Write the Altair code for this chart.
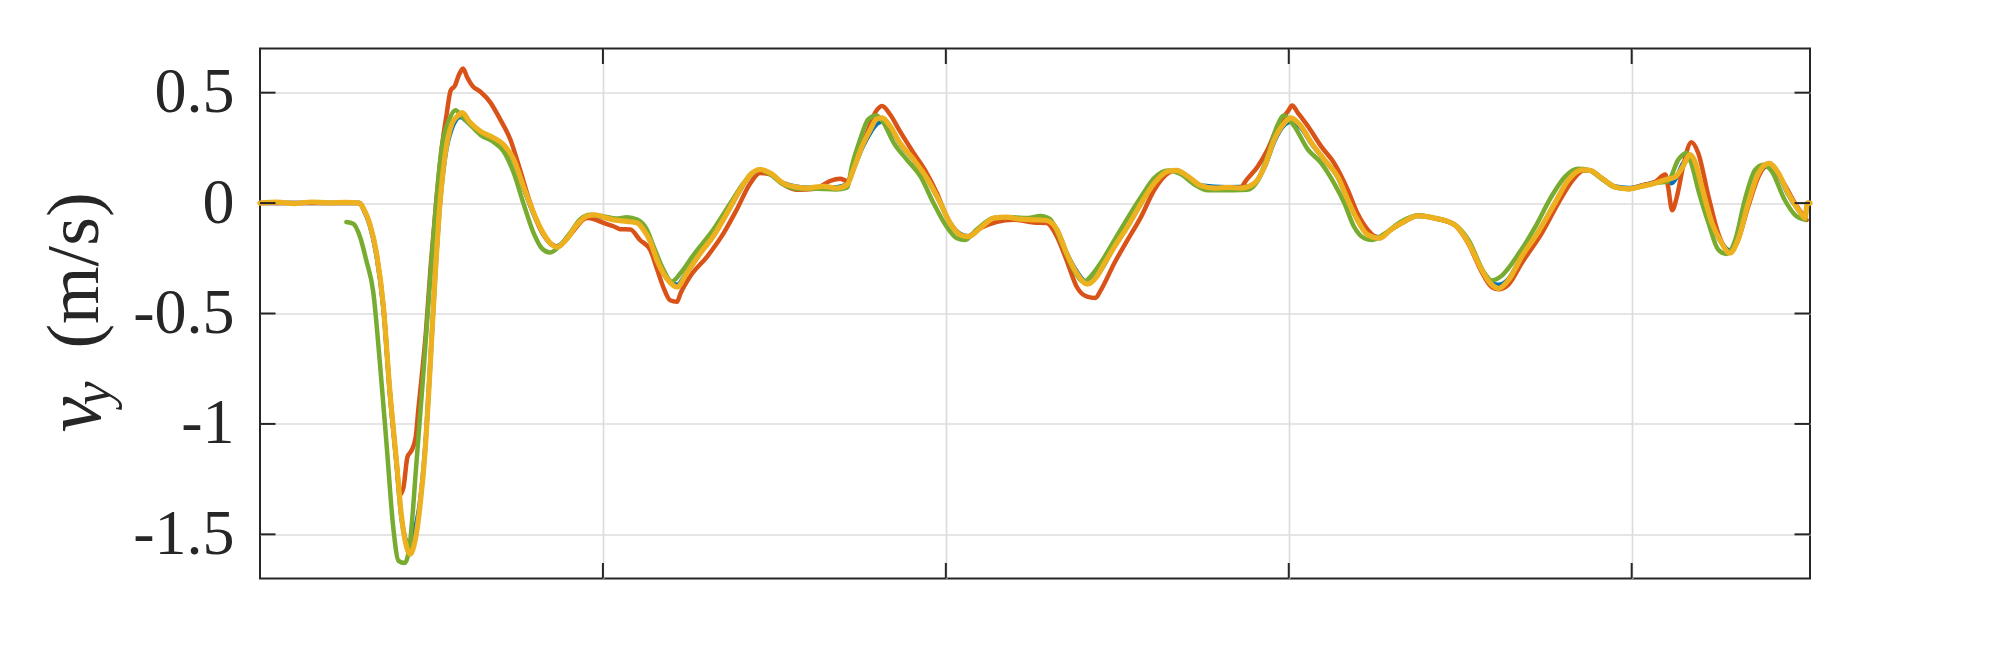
import altair as alt
import pandas as pd

# ---------------- data ----------------
yellow_t = [0.00, 0.25, 0.50, 0.75, 1.00, 1.25, 1.45, 1.51, 1.60, 1.70, 1.80, 1.89, 1.99, 2.06, 2.14, 2.19,
            2.26, 2.33, 2.41, 2.48, 2.55, 2.62, 2.70, 2.80, 2.90, 2.95, 3.05, 3.21, 3.41, 3.55, 3.70, 3.84,
            3.99, 4.13, 4.26, 4.33, 4.48, 4.62, 4.77, 4.89, 5.01, 5.16, 5.35, 5.50, 5.59, 5.69, 5.79, 5.88,
            5.98, 6.08, 6.22, 6.42, 6.61, 6.81, 7.00, 7.15, 7.29, 7.44, 7.63, 7.83, 7.97, 8.22, 8.41, 8.56,
            8.65, 8.78, 8.90, 8.99, 9.07, 9.19, 9.33, 9.53, 9.72, 9.92, 10.06, 10.21, 10.33, 10.50, 10.70,
            10.89, 11.08, 11.33, 11.47, 11.62, 11.76, 11.91, 12.06, 12.20, 12.30, 12.46, 12.65, 12.85, 13.04,
            13.24, 13.36, 13.53, 13.72, 13.92, 14.11, 14.31, 14.50, 14.65, 14.79, 14.94, 15.03, 15.18, 15.33,
            15.52, 15.71, 15.86, 16.00, 16.15, 16.32, 16.49, 16.69, 16.88, 17.13, 17.42, 17.62, 17.81, 17.96,
            18.06, 18.20, 18.40, 18.64, 18.88, 19.08, 19.27, 19.39, 19.56, 19.76, 19.95, 20.15, 20.34, 20.49,
            20.63, 20.75, 20.85, 20.92, 21.02, 21.17, 21.31, 21.43, 21.55, 21.70, 21.85, 22.00, 22.14, 22.28,
            22.43, 22.53, 22.56, 22.60]
yellow_v = [0.000, 0.004, -0.002, 0.005, 0.001, 0.003, 0.000, -0.026, -0.094, -0.23, -0.47, -0.84, -1.17, -1.41,
            -1.56, -1.59, -1.53, -1.38, -1.11, -0.745, -0.35, -0.018, 0.22, 0.36, 0.40, 0.41, 0.37, 0.326, 0.295,
            0.265, 0.197, 0.076, -0.045, -0.136, -0.19, -0.20, -0.16, -0.098, -0.058, -0.053, -0.064, -0.076,
            -0.083, -0.09, -0.12, -0.174, -0.26, -0.318, -0.36, -0.38, -0.318, -0.227, -0.15, -0.045, 0.06,
            0.129, 0.152, 0.136, 0.09, 0.072, 0.068, 0.076, 0.068, 0.083, 0.15, 0.258, 0.333, 0.38, 0.386,
            0.348, 0.273, 0.197, 0.114, 0.0, -0.09, -0.144, -0.152, -0.114, -0.068, -0.064, -0.073, -0.076,
            -0.079, -0.12, -0.227, -0.318, -0.367, -0.333, -0.28, -0.197, -0.106, 0.0, 0.09, 0.144, 0.148,
            0.121, 0.079, 0.068, 0.071, 0.068, 0.09, 0.167, 0.288, 0.364, 0.386, 0.348, 0.273, 0.197, 0.121,
            0.015, -0.076, -0.144, -0.159, -0.12, -0.083, -0.058, -0.068, -0.098, -0.18, -0.30, -0.37, -0.386,
            -0.35, -0.24, -0.13, 0.0, 0.106, 0.15, 0.148, 0.114, 0.073, 0.064, 0.076, 0.09, 0.106, 0.117, 0.167,
            0.22, 0.19, 0.076, -0.09, -0.18, -0.227, -0.167, 0.0, 0.136, 0.18, 0.136, 0.045, -0.03, -0.068, 0.0,
            0.0]

blue_t = [0.00, 0.50, 1.00, 1.45, 1.51, 1.60, 1.70, 1.80, 1.89, 1.99, 2.06, 2.12, 2.17, 2.22, 2.28, 2.33, 2.41,
          2.48, 2.55, 2.62, 2.70, 2.80, 2.92, 3.05, 3.21, 3.41, 3.55, 3.70, 3.84, 3.99, 4.13, 4.26, 4.33, 4.48,
          4.62, 4.77, 4.89, 5.01, 5.16, 5.35, 5.50, 5.59, 5.69, 5.79, 5.88, 5.98, 6.08, 6.22, 6.42, 6.61, 6.81,
          7.00, 7.15, 7.29, 7.44, 7.63, 7.97, 8.41, 8.56, 8.65, 8.78, 8.90, 9.00, 9.07, 9.19, 9.33, 9.53, 9.72,
          9.92, 10.06, 10.21, 10.33, 10.50, 10.70, 11.08, 11.47, 11.62, 11.76, 11.91, 12.06, 12.20, 12.46, 12.65,
          12.85, 13.04, 13.24, 13.36, 13.53, 13.72, 14.11, 14.45, 14.65, 14.79, 14.94, 15.03, 15.18, 15.33, 15.52,
          15.71, 15.86, 16.00, 16.15, 16.32, 16.49, 16.69, 16.88, 17.13, 17.42, 17.62, 17.81, 17.96, 18.06, 18.20,
          18.40, 18.64, 18.88, 19.08, 19.27, 19.39, 19.56, 19.76, 19.95, 20.15, 20.34, 20.49, 20.58, 20.66, 20.75,
          20.85, 20.92, 21.02, 21.17, 21.31, 21.43, 21.55, 21.70, 21.85, 22.00, 22.14, 22.28, 22.43, 22.53, 22.56,
          22.60]
blue_v = [0.0, 0.0, 0.0, 0.0, -0.03, -0.10, -0.24, -0.48, -0.85, -1.18, -1.42, -1.52, -1.55, -1.52, -1.45, -1.36,
          -1.10, -0.74, -0.35, -0.02, 0.21, 0.34, 0.39, 0.36, 0.32, 0.29, 0.26, 0.19, 0.07, -0.05, -0.14, -0.19,
          -0.195, -0.16, -0.10, -0.06, -0.055, -0.066, -0.074, -0.08, -0.085, -0.115, -0.17, -0.255, -0.32, -0.355,
          -0.37, -0.315, -0.225, -0.148, -0.045, 0.058, 0.128, 0.15, 0.134, 0.09, 0.07, 0.072, 0.085, 0.15, 0.25,
          0.32, 0.36, 0.37, 0.34, 0.27, 0.195, 0.112, 0.0, -0.09, -0.14, -0.15, -0.112, -0.068, -0.07, -0.078,
          -0.12, -0.225, -0.31, -0.36, -0.33, -0.195, -0.105, 0.0, 0.088, 0.142, 0.147, 0.12, 0.08, 0.072, 0.075,
          0.165, 0.28, 0.355, 0.37, 0.34, 0.27, 0.195, 0.12, 0.015, -0.075, -0.14, -0.155, -0.12, -0.083, -0.058,
          -0.068, -0.098, -0.18, -0.30, -0.365, -0.37, -0.345, -0.24, -0.13, 0.0, 0.105, 0.148, 0.147, 0.114,
          0.075, 0.068, 0.08, 0.095, 0.11, 0.09, 0.12, 0.18, 0.20, 0.18, 0.074, -0.09, -0.18, -0.215, -0.165, 0.0,
          0.13, 0.17, 0.13, 0.04, -0.03, -0.06, 0.0, 0.0]

red_t = [0.00, 0.50, 1.00, 1.45, 1.51, 1.60, 1.70, 1.80, 1.89, 1.99, 2.04, 2.09, 2.15, 2.21, 2.27, 2.31, 2.35,
         2.42, 2.49, 2.57, 2.65, 2.72, 2.78, 2.84, 2.90, 2.96, 3.02, 3.10, 3.21, 3.36, 3.50, 3.65, 3.79, 3.94,
         4.09, 4.23, 4.35, 4.52, 4.77, 4.89, 5.01, 5.16, 5.25, 5.40, 5.54, 5.69, 5.79, 5.88, 5.98, 6.08, 6.13,
         6.27, 6.52, 6.76, 6.95, 7.15, 7.29, 7.44, 7.63, 7.83, 8.10, 8.31, 8.46, 8.56, 8.70, 8.85, 8.97, 9.07,
         9.19, 9.33, 9.53, 9.72, 9.87, 10.01, 10.16, 10.31, 10.50, 10.99, 11.28, 11.47, 11.62, 11.76, 11.91,
         12.06, 12.18, 12.26, 12.46, 12.65, 12.85, 13.04, 13.24, 13.36, 13.53, 13.72, 13.92, 14.11, 14.31, 14.35,
         14.55, 14.69, 14.84, 14.99, 15.05, 15.13, 15.28, 15.47, 15.66, 15.86, 16.00, 16.15, 16.32, 16.49, 16.69,
         16.89, 17.13, 17.42, 17.62, 17.81, 17.96, 18.06, 18.20, 18.40, 18.69, 18.93, 19.13, 19.30, 19.39, 19.56,
         19.76, 19.95, 20.15, 20.34, 20.49, 20.53, 20.59, 20.66, 20.75, 20.87, 20.97, 21.12, 21.26, 21.43, 21.55,
         21.70, 21.85, 22.00, 22.19, 22.38, 22.55]
red_v = [0.0, 0.0, 0.0, 0.0, -0.026, -0.094, -0.23, -0.47, -0.84, -1.17, -1.32, -1.29, -1.15, -1.12, -1.06, -0.93,
         -0.81, -0.58, -0.28, 0.01, 0.25, 0.40, 0.51, 0.53, 0.58, 0.61, 0.57, 0.53, 0.505, 0.455, 0.38, 0.288, 0.152,
         0.0, -0.12, -0.18, -0.197, -0.144, -0.068, -0.075, -0.09, -0.106, -0.118, -0.12, -0.167, -0.212, -0.30,
         -0.38, -0.44, -0.447, -0.41, -0.333, -0.242, -0.136, -0.03, 0.09, 0.136, 0.13, 0.085, 0.06, 0.065, 0.10,
         0.11, 0.10, 0.197, 0.318, 0.41, 0.44, 0.40, 0.326, 0.227, 0.136, 0.045, -0.06, -0.129, -0.152, -0.114,
         -0.075, -0.088, -0.09, -0.152, -0.258, -0.38, -0.424, -0.43, -0.394, -0.27, -0.167, -0.06, 0.06, 0.136,
         0.148, 0.121, 0.079, 0.066, 0.07, 0.07, 0.09, 0.167, 0.242, 0.348, 0.417, 0.442, 0.41, 0.348, 0.258, 0.182,
         0.06, -0.045, -0.12, -0.159, -0.12, -0.083, -0.055, -0.07, -0.10, -0.185, -0.31, -0.38, -0.39, -0.37,
         -0.27, -0.136, 0.0, 0.10, 0.148, 0.148, 0.114, 0.073, 0.064, 0.08, 0.095, 0.129, 0.076, -0.033, 0.03, 0.167,
         0.276, 0.227, 0.03, -0.136, -0.22, -0.167, -0.015, 0.12, 0.18, 0.105, 0.0, -0.076]

green_t = [1.26, 1.36, 1.46, 1.55, 1.65, 1.75, 1.85, 1.94, 2.02, 2.11, 2.19, 2.28, 2.38, 2.48, 2.58, 2.65, 2.75,
           2.85, 2.95, 3.05, 3.21, 3.41, 3.55, 3.70, 3.84, 3.99, 4.11, 4.23, 4.38, 4.52, 4.67, 4.82, 5.00, 5.20,
           5.35, 5.50, 5.64, 5.74, 5.88, 6.00, 6.13, 6.32, 6.61, 6.86, 7.05, 7.19, 7.29, 7.44, 7.63, 7.83, 8.10,
           8.40, 8.56, 8.63, 8.75, 8.87, 8.99, 9.09, 9.24, 9.43, 9.63, 9.82, 10.01, 10.16, 10.28, 10.45, 10.70,
           10.95, 11.20, 11.38, 11.52, 11.71, 11.86, 12.01, 12.15, 12.26, 12.46, 12.65, 12.85, 13.04, 13.24, 13.43,
           13.62, 13.82, 14.20, 14.40, 14.54, 14.69, 14.83, 14.93, 15.08, 15.28, 15.47, 15.66, 15.81, 15.95, 16.10,
           16.22, 16.39, 16.63, 16.89, 17.13, 17.42, 17.62, 17.86, 17.96, 18.10, 18.35, 18.59, 18.83, 19.03, 19.22,
           19.37, 19.56, 19.76, 19.95, 20.15, 20.34, 20.53, 20.68, 20.80, 20.87, 20.97, 21.12, 21.26, 21.38, 21.51,
           21.65, 21.80, 21.92, 22.04, 22.23, 22.38, 22.53]
green_v = [-0.086, -0.094, -0.155, -0.26, -0.40, -0.73, -1.11, -1.46, -1.62, -1.63, -1.53, -1.18, -0.78, -0.35,
           0.04, 0.25, 0.37, 0.42, 0.39, 0.36, 0.31, 0.276, 0.235, 0.136, 0.0, -0.136, -0.205, -0.224, -0.19, -0.136,
           -0.073, -0.053, -0.06, -0.07, -0.064, -0.075, -0.12, -0.197, -0.30, -0.356, -0.318, -0.235, -0.12, 0.0,
           0.09, 0.136, 0.152, 0.13, 0.085, 0.065, 0.065, 0.062, 0.07, 0.167, 0.288, 0.38, 0.397, 0.364, 0.273,
           0.197, 0.121, 0.0, -0.106, -0.159, -0.167, -0.12, -0.068, -0.064, -0.068, -0.058, -0.073, -0.197, -0.30,
           -0.356, -0.318, -0.27, -0.167, -0.068, 0.03, 0.114, 0.148, 0.13, 0.085, 0.058, 0.058, 0.06, 0.098, 0.212,
           0.348, 0.397, 0.348, 0.242, 0.182, 0.09, 0.0, -0.106, -0.159, -0.167, -0.14, -0.085, -0.055, -0.068,
           -0.098, -0.167, -0.32, -0.35, -0.33, -0.23, -0.11, 0.03, 0.12, 0.155, 0.15, 0.11, 0.07, 0.064, 0.076,
           0.09, 0.10, 0.197, 0.227, 0.18, 0.06, -0.09, -0.21, -0.23, -0.167, 0.015, 0.15, 0.174, 0.145, 0.015,
           -0.053, -0.076]

y_ticks = [-1.5, -1.0, -0.5, 0.0, 0.5]
x_ticks = [5, 10, 15, 20]
x_domain = [0, 22.6]
y_domain = [-1.7, 0.7]

series_colors = {"blue": "#0072BD", "red": "#D95319", "green": "#77AC30", "yellow": "#EDB120"}

W, H = 1550, 530
TICK = 15.5
FRAME = "#262626"
FONT = "Liberation Serif"

xs = alt.Scale(domain=x_domain, nice=False, zero=False)
ys = alt.Scale(domain=y_domain, nice=False, zero=False)

y_axis = alt.Axis(values=y_ticks, grid=True, gridColor="#dcdcdc", gridWidth=1.7,
                  ticks=False, domain=False, labelFont=FONT, labelFontSize=64,
                  labelColor=FRAME, labelPadding=26, labelExpr="datum.value + ''",
                  title=None)
x_axis = alt.Axis(values=x_ticks, grid=True, gridColor="#dcdcdc", gridWidth=1.7,
                  ticks=False, domain=False, labels=False, title=None)

X = lambda f: alt.X(f, scale=xs, axis=x_axis)
Y = lambda f: alt.Y(f, scale=ys, axis=y_axis)


def line_layer(ts, vs, color, width):
    df = pd.DataFrame({"t": ts, "v": vs})
    return alt.Chart(df).mark_line(color=color, strokeWidth=width, interpolate="monotone",
                                   strokeJoin="round", strokeCap="round").encode(
        x=X("t:Q"), y=Y("v:Q"),
    )


ytick_df = pd.DataFrame({"v": y_ticks})
xtick_df = pd.DataFrame({"t": x_ticks})

tick_style = dict(color=FRAME, strokeWidth=2)
yl = alt.Chart(ytick_df).mark_rule(**tick_style).encode(
    y=Y("v:Q"), x=alt.value(0), x2=alt.value(TICK))
yr = alt.Chart(ytick_df).mark_rule(**tick_style).encode(
    y=Y("v:Q"), x=alt.value(W - TICK), x2=alt.value(W))
xb = alt.Chart(xtick_df).mark_rule(**tick_style).encode(
    x=X("t:Q"), y=alt.value(H - TICK), y2=alt.value(H))
xt = alt.Chart(xtick_df).mark_rule(**tick_style).encode(
    x=X("t:Q"), y=alt.value(0), y2=alt.value(TICK))

# y-axis title: v_y (m/s), rotated
title_df = pd.DataFrame({"txt": ["(m/s)"]})
t_units = alt.Chart(title_df).mark_text(angle=270, font=FONT, fontSize=74, color=FRAME,
                                        align="center", baseline="alphabetic").encode(
    text="txt:N", x=alt.value(-162), y=alt.value(222))
v_df = pd.DataFrame({"txt": ["v"]})
t_v = alt.Chart(v_df).mark_text(angle=270, font=FONT, fontSize=80, fontStyle="italic", color=FRAME,
                                align="center", baseline="alphabetic").encode(
    text="txt:N", x=alt.value(-160), y=alt.value(366))
sub_df = pd.DataFrame({"txt": ["y"]})
t_sub = alt.Chart(sub_df).mark_text(angle=270, font=FONT, fontSize=54, fontStyle="italic", color=FRAME,
                                    align="center", baseline="alphabetic").encode(
    text="txt:N", x=alt.value(-150), y=alt.value(345))

chart = alt.layer(
    line_layer(blue_t, blue_v, series_colors["blue"], 4.5),
    line_layer(red_t, red_v, series_colors["red"], 4.5),
    line_layer(green_t, green_v, series_colors["green"], 4.5),
    line_layer(yellow_t, yellow_v, series_colors["yellow"], 5.2),
    yl, yr, xb, xt, t_units, t_v, t_sub,
).properties(
    width=W, height=H,
    background="white",
    autosize=alt.AutoSizeParams(type="none"),
    padding={"left": 252, "top": 40.5, "right": 182, "bottom": 63},
).configure_view(
    stroke=FRAME, strokeWidth=2
)

chart.save("out.html", embed_options={"renderer": "svg", "actions": False})
